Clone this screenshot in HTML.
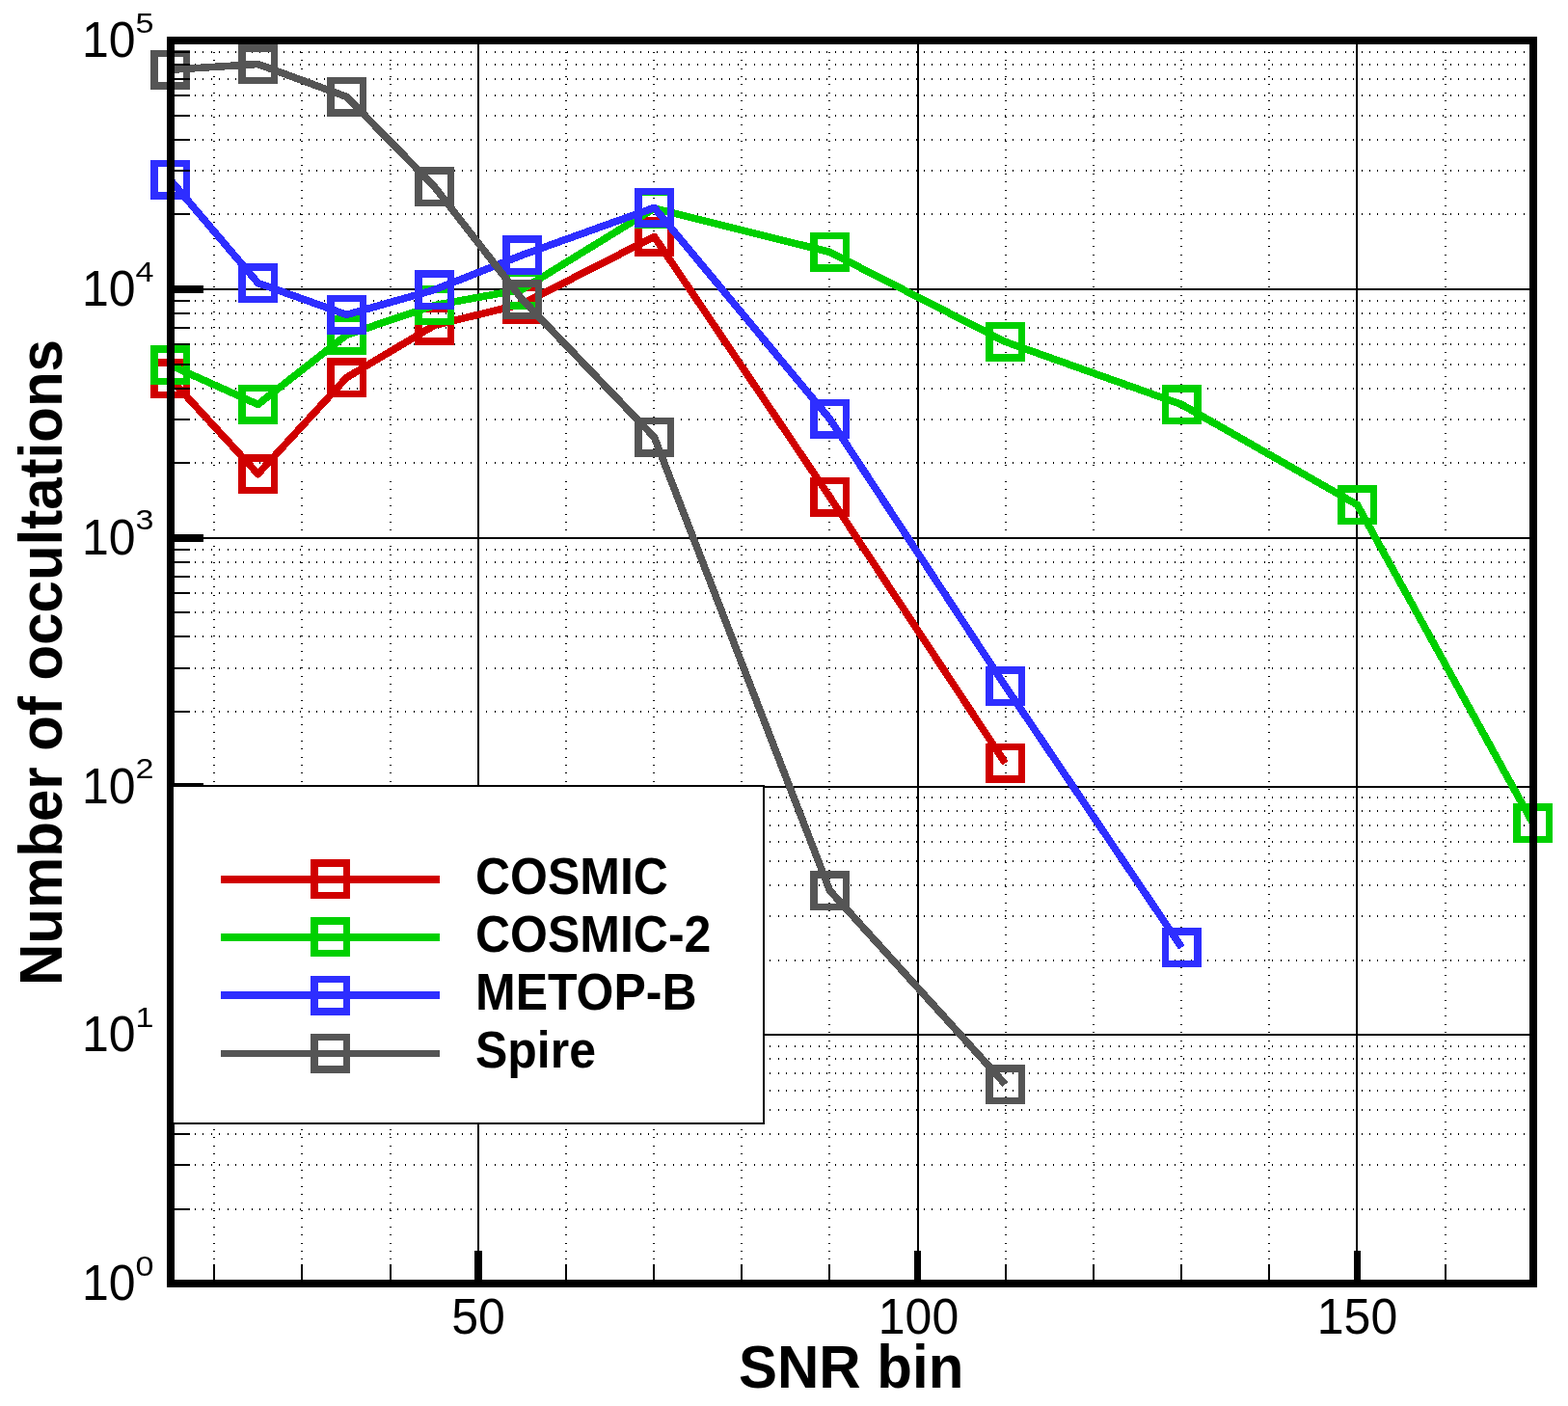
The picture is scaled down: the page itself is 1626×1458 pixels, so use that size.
<!DOCTYPE html><html><head><meta charset="utf-8"><title>Number of occultations vs SNR bin</title><style>html,body{margin:0;padding:0;background:#fff;}svg{display:block;}</style></head><body>
<svg width="1626" height="1458" viewBox="0 0 1626 1458" shape-rendering="crispEdges">
<rect x="0" y="0" width="1626" height="1458" fill="#fff"/>
<path d="M181 1254H1586M181 1208H1586M181 1176H1586M181 1151H1586M181 1131H1586M181 1113H1586M181 1098H1586M181 1085H1586M181 996H1586M181 950H1586M181 918H1586M181 893H1586M181 873H1586M181 856H1586M181 841H1586M181 827H1586M181 738H1586M181 693H1586M181 660H1586M181 635H1586M181 615H1586M181 598H1586M181 583H1586M181 570H1586M181 480H1586M181 435H1586M181 403H1586M181 378H1586M181 357H1586M181 340H1586M181 325H1586M181 312H1586M181 222H1586M181 177H1586M181 145H1586M181 120H1586M181 99H1586M181 82H1586M181 67H1586M181 54H1586" stroke="#000" stroke-width="2" stroke-dasharray="1 7.4" stroke-dashoffset="-4.1" fill="none" shape-rendering="crispEdges"/>
<path d="M222 46V1327M313 46V1327M405 46V1327M587 46V1327M678 46V1327M769 46V1327M860 46V1327M1043 46V1327M1134 46V1327M1225 46V1327M1316 46V1327M1499 46V1327" stroke="#000" stroke-width="2" stroke-dasharray="1 7.4" stroke-dashoffset="0.7" fill="none" shape-rendering="crispEdges"/>
<path d="M181 300H1586M181 558H1586M181 816H1586M181 1073H1586M496 46V1327M952 46V1327M1407 46V1327" stroke="#000" stroke-width="2" fill="none" shape-rendering="crispEdges"/>
<path d="M176.5 392.5 L267.5 491.5 L359.5 391.5 L450.5 337.3 L541.5 315.3 L678.5 245.4 L860.5 515.3 L1042.5 791.4" stroke="#D00000" stroke-width="7.6" fill="none" stroke-linejoin="round" stroke-linecap="butt"/>
<rect x="159.75" y="375.75" width="33.5" height="33.5" stroke="#D00000" stroke-width="7.5" fill="none"/>
<rect x="250.75" y="474.75" width="33.5" height="33.5" stroke="#D00000" stroke-width="7.5" fill="none"/>
<rect x="342.75" y="374.75" width="33.5" height="33.5" stroke="#D00000" stroke-width="7.5" fill="none"/>
<rect x="433.75" y="320.55" width="33.5" height="33.5" stroke="#D00000" stroke-width="7.5" fill="none"/>
<rect x="524.75" y="298.55" width="33.5" height="33.5" stroke="#D00000" stroke-width="7.5" fill="none"/>
<rect x="661.75" y="228.65" width="33.5" height="33.5" stroke="#D00000" stroke-width="7.5" fill="none"/>
<rect x="843.75" y="498.55" width="33.5" height="33.5" stroke="#D00000" stroke-width="7.5" fill="none"/>
<rect x="1025.75" y="774.65" width="33.5" height="33.5" stroke="#D00000" stroke-width="7.5" fill="none"/>
<path d="M176.5 378.6 L267.5 419.4 L359.5 347.3 L450.5 316.6 L541.5 300.1 L678.5 216.0 L860.5 261.4 L1042.5 354.4 L1225.4 419.5 L1407.5 523.5 L1589.5 853.5" stroke="#00D000" stroke-width="7.6" fill="none" stroke-linejoin="round" stroke-linecap="butt"/>
<rect x="159.75" y="361.85" width="33.5" height="33.5" stroke="#00D000" stroke-width="7.5" fill="none"/>
<rect x="250.75" y="402.65" width="33.5" height="33.5" stroke="#00D000" stroke-width="7.5" fill="none"/>
<rect x="342.75" y="330.55" width="33.5" height="33.5" stroke="#00D000" stroke-width="7.5" fill="none"/>
<rect x="433.75" y="299.85" width="33.5" height="33.5" stroke="#00D000" stroke-width="7.5" fill="none"/>
<rect x="524.75" y="283.35" width="33.5" height="33.5" stroke="#00D000" stroke-width="7.5" fill="none"/>
<rect x="661.75" y="199.25" width="33.5" height="33.5" stroke="#00D000" stroke-width="7.5" fill="none"/>
<rect x="843.75" y="244.65" width="33.5" height="33.5" stroke="#00D000" stroke-width="7.5" fill="none"/>
<rect x="1025.75" y="337.65" width="33.5" height="33.5" stroke="#00D000" stroke-width="7.5" fill="none"/>
<rect x="1208.65" y="402.75" width="33.5" height="33.5" stroke="#00D000" stroke-width="7.5" fill="none"/>
<rect x="1390.75" y="506.75" width="33.5" height="33.5" stroke="#00D000" stroke-width="7.5" fill="none"/>
<rect x="1572.75" y="836.75" width="33.5" height="33.5" stroke="#00D000" stroke-width="7.5" fill="none"/>
<path d="M176.5 186.4 L267.5 293.5 L359.5 326.4 L450.5 300.5 L541.5 264.5 L678.5 215.4 L860.5 434.4 L1042.5 711.5 L1225.4 982.5" stroke="#2E2EFF" stroke-width="7.6" fill="none" stroke-linejoin="round" stroke-linecap="butt"/>
<rect x="159.75" y="169.65" width="33.5" height="33.5" stroke="#2E2EFF" stroke-width="7.5" fill="none"/>
<rect x="250.75" y="276.75" width="33.5" height="33.5" stroke="#2E2EFF" stroke-width="7.5" fill="none"/>
<rect x="342.75" y="309.65" width="33.5" height="33.5" stroke="#2E2EFF" stroke-width="7.5" fill="none"/>
<rect x="433.75" y="283.75" width="33.5" height="33.5" stroke="#2E2EFF" stroke-width="7.5" fill="none"/>
<rect x="524.75" y="247.75" width="33.5" height="33.5" stroke="#2E2EFF" stroke-width="7.5" fill="none"/>
<rect x="661.75" y="198.65" width="33.5" height="33.5" stroke="#2E2EFF" stroke-width="7.5" fill="none"/>
<rect x="843.75" y="417.65" width="33.5" height="33.5" stroke="#2E2EFF" stroke-width="7.5" fill="none"/>
<rect x="1025.75" y="694.75" width="33.5" height="33.5" stroke="#2E2EFF" stroke-width="7.5" fill="none"/>
<rect x="1208.65" y="965.75" width="33.5" height="33.5" stroke="#2E2EFF" stroke-width="7.5" fill="none"/>
<path d="M176.5 72.3 L267.5 66.5 L359.5 100.4 L450.5 193.6 L541.5 310.5 L678.5 453.4 L860.5 923.5 L1042.5 1124.5" stroke="#555555" stroke-width="7.6" fill="none" stroke-linejoin="round" stroke-linecap="butt"/>
<rect x="159.75" y="55.55" width="33.5" height="33.5" stroke="#555555" stroke-width="7.5" fill="none"/>
<rect x="250.75" y="49.75" width="33.5" height="33.5" stroke="#555555" stroke-width="7.5" fill="none"/>
<rect x="342.75" y="83.65" width="33.5" height="33.5" stroke="#555555" stroke-width="7.5" fill="none"/>
<rect x="433.75" y="176.85" width="33.5" height="33.5" stroke="#555555" stroke-width="7.5" fill="none"/>
<rect x="524.75" y="293.75" width="33.5" height="33.5" stroke="#555555" stroke-width="7.5" fill="none"/>
<rect x="661.75" y="436.65" width="33.5" height="33.5" stroke="#555555" stroke-width="7.5" fill="none"/>
<rect x="843.75" y="906.75" width="33.5" height="33.5" stroke="#555555" stroke-width="7.5" fill="none"/>
<rect x="1025.75" y="1107.75" width="33.5" height="33.5" stroke="#555555" stroke-width="7.5" fill="none"/>
<g fill="#000"><rect x="181" y="1327" width="30" height="8"/><rect x="181" y="1253" width="16" height="2"/><rect x="181" y="1207" width="16" height="2"/><rect x="181" y="1175" width="16" height="2"/><rect x="181" y="1150" width="16" height="2"/><rect x="181" y="1130" width="16" height="2"/><rect x="181" y="1112" width="16" height="2"/><rect x="181" y="1097" width="16" height="2"/><rect x="181" y="1084" width="16" height="2"/><rect x="181" y="1069" width="30" height="8"/><rect x="181" y="995" width="16" height="2"/><rect x="181" y="949" width="16" height="2"/><rect x="181" y="917" width="16" height="2"/><rect x="181" y="892" width="16" height="2"/><rect x="181" y="872" width="16" height="2"/><rect x="181" y="855" width="16" height="2"/><rect x="181" y="840" width="16" height="2"/><rect x="181" y="826" width="16" height="2"/><rect x="181" y="812" width="30" height="8"/><rect x="181" y="737" width="16" height="2"/><rect x="181" y="692" width="16" height="2"/><rect x="181" y="659" width="16" height="2"/><rect x="181" y="634" width="16" height="2"/><rect x="181" y="614" width="16" height="2"/><rect x="181" y="597" width="16" height="2"/><rect x="181" y="582" width="16" height="2"/><rect x="181" y="569" width="16" height="2"/><rect x="181" y="554" width="30" height="8"/><rect x="181" y="479" width="16" height="2"/><rect x="181" y="434" width="16" height="2"/><rect x="181" y="402" width="16" height="2"/><rect x="181" y="377" width="16" height="2"/><rect x="181" y="356" width="16" height="2"/><rect x="181" y="339" width="16" height="2"/><rect x="181" y="324" width="16" height="2"/><rect x="181" y="311" width="16" height="2"/><rect x="181" y="296" width="30" height="8"/><rect x="181" y="221" width="16" height="2"/><rect x="181" y="176" width="16" height="2"/><rect x="181" y="144" width="16" height="2"/><rect x="181" y="119" width="16" height="2"/><rect x="181" y="98" width="16" height="2"/><rect x="181" y="81" width="16" height="2"/><rect x="181" y="66" width="16" height="2"/><rect x="181" y="53" width="16" height="2"/><rect x="181" y="38" width="30" height="8"/><rect x="492" y="1297" width="8" height="30"/><rect x="948" y="1297" width="7" height="30"/><rect x="1404" y="1297" width="7" height="30"/><rect x="221" y="1311" width="2" height="16"/><rect x="312" y="1311" width="2" height="16"/><rect x="404" y="1311" width="2" height="16"/><rect x="586" y="1311" width="2" height="16"/><rect x="677" y="1311" width="2" height="16"/><rect x="768" y="1311" width="2" height="16"/><rect x="859" y="1311" width="2" height="16"/><rect x="1042" y="1311" width="2" height="16"/><rect x="1133" y="1311" width="2" height="16"/><rect x="1224" y="1311" width="2" height="16"/><rect x="1315" y="1311" width="2" height="16"/><rect x="1498" y="1311" width="2" height="16"/></g>
<rect x="177" y="42" width="1413" height="1289" fill="none" stroke="#000" stroke-width="8"/>
<g font-family="Liberation Sans, Arial, Helvetica, sans-serif" fill="#000"><text x="496" y="1383" text-anchor="middle" font-size="50" transform="translate(0,1383) scale(1,1.04) translate(0,-1383)">50</text><text x="952.5" y="1383" text-anchor="middle" font-size="50" transform="translate(0,1383) scale(1,1.04) translate(0,-1383)">100</text><text x="1407.5" y="1383" text-anchor="middle" font-size="50" transform="translate(0,1383) scale(1,1.04) translate(0,-1383)">150</text><text x="85" y="1348.3" font-size="50" transform="translate(0,1348.3) scale(1,1.04) translate(0,-1348.3)">10</text><text x="0" y="0" font-size="31" transform="translate(140.6,1322.8) scale(1.1,0.96)">0</text><text x="85" y="1090.5" font-size="50" transform="translate(0,1090.5) scale(1,1.04) translate(0,-1090.5)">10</text><text x="0" y="0" font-size="31" transform="translate(140.6,1065.0) scale(1.1,0.96)">1</text><text x="85" y="832.7" font-size="50" transform="translate(0,832.7) scale(1,1.04) translate(0,-832.7)">10</text><text x="0" y="0" font-size="31" transform="translate(140.6,807.2) scale(1.1,0.96)">2</text><text x="85" y="574.9" font-size="50" transform="translate(0,574.9) scale(1,1.04) translate(0,-574.9)">10</text><text x="0" y="0" font-size="31" transform="translate(140.6,549.4) scale(1.1,0.96)">3</text><text x="85" y="317.1" font-size="50" transform="translate(0,317.1) scale(1,1.04) translate(0,-317.1)">10</text><text x="0" y="0" font-size="31" transform="translate(140.6,291.6) scale(1.1,0.96)">4</text><text x="85" y="59.3" font-size="50" transform="translate(0,59.3) scale(1,1.04) translate(0,-59.3)">10</text><text x="0" y="0" font-size="31" transform="translate(140.6,33.8) scale(1.1,0.96)">5</text></g>
<text font-family="Liberation Sans, Arial, Helvetica, sans-serif" font-weight="bold" font-size="60" transform="translate(64,1022) rotate(-90) scale(1,1.062)" x="0" y="0">Number of occultations</text>
<text font-family="Liberation Sans, Arial, Helvetica, sans-serif" font-weight="bold" font-size="60" transform="translate(766,1438.7) scale(1,1.062)" x="0" y="0">SNR bin</text>
<rect x="179" y="815" width="613" height="350" fill="#fff" stroke="#000" stroke-width="2"/>
<path d="M229 912H456" stroke="#D00000" stroke-width="8" fill="none"/>
<rect x="325.75" y="894.75" width="33.5" height="33.5" stroke="#D00000" stroke-width="7.5" fill="none"/>
<text font-family="Liberation Sans, Arial, Helvetica, sans-serif" font-weight="bold" font-size="50" transform="translate(493,927) scale(1,1.055)" x="0" y="0">COSMIC</text>
<path d="M229 972H456" stroke="#00D000" stroke-width="8" fill="none"/>
<rect x="325.75" y="955.05" width="33.5" height="33.5" stroke="#00D000" stroke-width="7.5" fill="none"/>
<text font-family="Liberation Sans, Arial, Helvetica, sans-serif" font-weight="bold" font-size="50" transform="translate(493,987) scale(1,1.055)" x="0" y="0">COSMIC-2</text>
<path d="M229 1032H456" stroke="#2E2EFF" stroke-width="8" fill="none"/>
<rect x="325.75" y="1015.65" width="33.5" height="33.5" stroke="#2E2EFF" stroke-width="7.5" fill="none"/>
<text font-family="Liberation Sans, Arial, Helvetica, sans-serif" font-weight="bold" font-size="50" transform="translate(493,1047) scale(1,1.055)" x="0" y="0">METOP-B</text>
<path d="M229 1092.5H456" stroke="#555555" stroke-width="7.4" fill="none"/>
<rect x="325.75" y="1075.55" width="33.5" height="33.5" stroke="#555555" stroke-width="7.5" fill="none"/>
<text font-family="Liberation Sans, Arial, Helvetica, sans-serif" font-weight="bold" font-size="50" transform="translate(493,1107) scale(1,1.055)" x="0" y="0">Spire</text>
</svg></body></html>
